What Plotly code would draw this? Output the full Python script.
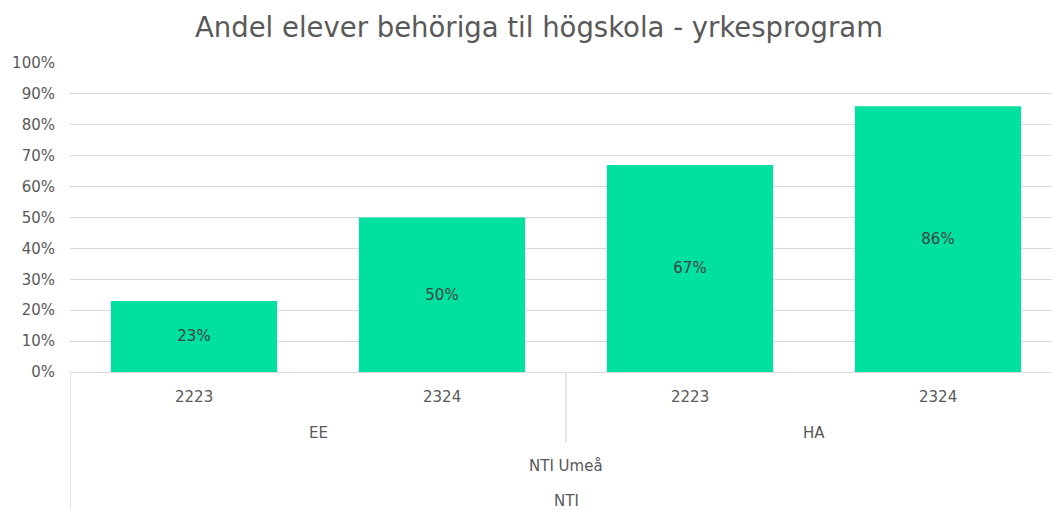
import plotly.graph_objects as go

title = "Andel elever behöriga til högskola - yrkesprogram"
years = ["2223", "2324", "2223", "2324"]
programs = ["EE", "EE", "HA", "HA"]
schools = ["NTI Umeå", "NTI Umeå", "NTI Umeå", "NTI Umeå"]
orgs = ["NTI", "NTI", "NTI", "NTI"]
values = [0.23, 0.50, 0.67, 0.86]
y_ticks = [0, 0.1, 0.2, 0.3, 0.4, 0.5, 0.6, 0.7, 0.8, 0.9, 1.0]

FONT = "DejaVu Sans"
TXT = "#595959"
BAR = "#00E1A0"
GRID = "#D9D9D9"

W, H = 1052, 510
ML, MT, MB = 70, 63, 138
plot_h = H - MT - MB

idx = list(range(len(values)))
fig = go.Figure(go.Bar(
    x=idx, y=values, width=0.67, marker=dict(color=BAR, line=dict(width=0)),
    text=[f"{round(v*100)}%" for v in values], textposition="inside",
    insidetextanchor="middle", textfont=dict(family=FONT, size=15, color="#404040"),
    hoverinfo="skip",
))

def px_to_paper(py):
    # pixels below the x axis -> paper y
    return -py / plot_h

annotations = []
shapes = []

def groups(labels):
    out = []
    start = 0
    for i in range(1, len(labels) + 1):
        if i == len(labels) or labels[i] != labels[start]:
            out.append((labels[start], start, i - 1))
            start = i
    return out

levels = [(years, 25, None), (programs, 61, 70), (schools, 94, None), (orgs, 129, None)]
for labels, ypix, sep_depth in levels:
    for lab, a, b in groups(labels):
        annotations.append(dict(x=(a + b) / 2, y=px_to_paper(ypix), xref="x", yref="paper",
                                text=lab, showarrow=False, yanchor="middle",
                                font=dict(family=FONT, size=15, color=TXT)))
    if sep_depth:
        for lab, a, b in groups(labels)[:-1]:
            shapes.append(dict(type="line", xref="x", yref="paper", x0=b + 0.5, x1=b + 0.5,
                               y0=0, y1=px_to_paper(sep_depth),
                               line=dict(color=GRID, width=1.3)))

shapes.append(dict(type="line", xref="x", yref="paper", x0=-0.5, x1=-0.5, y0=0,
                   y1=px_to_paper(MB), line=dict(color=GRID, width=1.3)))

cat_px = 248
visible = (W - ML) / cat_px
fig.update_layout(
    width=W, height=H, margin=dict(l=ML, r=0, t=MT, b=MB, autoexpand=False),
    paper_bgcolor="white", plot_bgcolor="white", showlegend=False,
    title=dict(text=title, x=539 / W, xref="container", xanchor="center", y=1 - 27 / H,
               yref="container", yanchor="middle",
               font=dict(family=FONT, size=27.5, color=TXT)),
    xaxis=dict(range=[-0.5, -0.5 + visible], showticklabels=False, showgrid=False,
               zeroline=False, showline=True, linecolor=GRID, linewidth=1.3, ticks="",
               automargin=False),
    yaxis=dict(range=[0, 1], tickvals=y_ticks, tickformat=".0%", showgrid=True,
               gridcolor=GRID, gridwidth=1.3, zeroline=False, showline=False, ticks="",
               ticklabelstandoff=14, automargin=False,
               tickfont=dict(family=FONT, size=15, color=TXT)),
    annotations=annotations, shapes=shapes,
)

fig.write_html("out.html", config={"displayModeBar": False},
               post_script="document.body.style.margin='0';document.body.style.overflow='hidden';")
